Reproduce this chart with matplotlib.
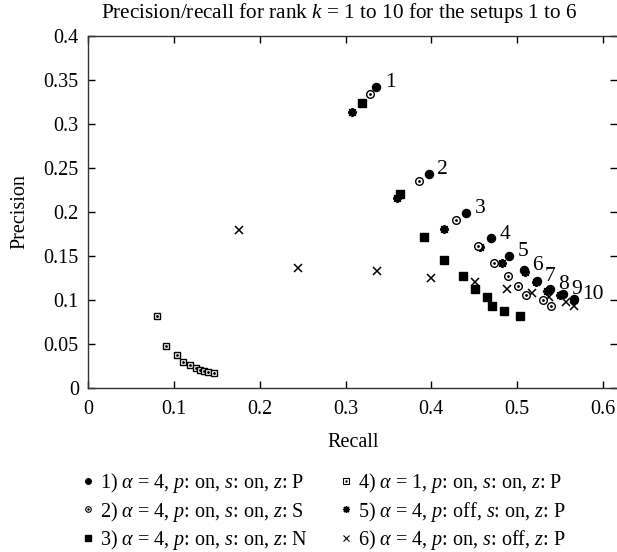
import matplotlib
matplotlib.use("Agg")
import matplotlib.pyplot as plt
from matplotlib.lines import Line2D

plt.rcParams['font.family'] = ['Liberation Serif', 'DejaVu Serif']
plt.rcParams['mathtext.fontset'] = 'custom'
plt.rcParams['mathtext.rm'] = 'Liberation Serif'
plt.rcParams['mathtext.it'] = 'Liberation Serif:italic'

# ---- data (recall, precision) for rank k = 1..10 ----
ranks = [1, 2, 3, 4, 5, 6, 7, 8, 9, 10]

rec1 = [0.336, 0.397, 0.441, 0.470, 0.491, 0.508, 0.523, 0.538, 0.554, 0.566]
pre1 = [0.342, 0.243, 0.199, 0.170, 0.150, 0.134, 0.122, 0.113, 0.107, 0.101]

rec2 = [0.328, 0.386, 0.429, 0.454, 0.473, 0.490, 0.501, 0.510, 0.530, 0.540]
pre2 = [0.334, 0.235, 0.191, 0.161, 0.142, 0.127, 0.116, 0.106, 0.100, 0.093]

rec3 = [0.319, 0.363, 0.391, 0.415, 0.437, 0.451, 0.465, 0.471, 0.485, 0.503]
pre3 = [0.324, 0.220, 0.172, 0.145, 0.127, 0.113, 0.103, 0.093, 0.087, 0.082]

rec4 = [0.080, 0.091, 0.103, 0.110, 0.118, 0.125, 0.130, 0.135, 0.140, 0.146]
pre4 = [0.082, 0.048, 0.037, 0.030, 0.026, 0.023, 0.021, 0.019, 0.018, 0.017]

rec5 = [0.308, 0.360, 0.415, 0.457, 0.483, 0.509, 0.522, 0.535, 0.550, 0.566]
pre5 = [0.314, 0.216, 0.181, 0.160, 0.142, 0.132, 0.120, 0.110, 0.106, 0.100]

rec6 = [0.176, 0.244, 0.337, 0.400, 0.451, 0.488, 0.518, 0.537, 0.557, 0.566]
pre6 = [0.179, 0.136, 0.133, 0.125, 0.120, 0.113, 0.108, 0.103, 0.098, 0.093]

labels = [
    r"1) $\alpha$ = 4, $p$: on, $s$: on, $z$: P",
    r"2) $\alpha$ = 4, $p$: on, $s$: on, $z$: S",
    r"3) $\alpha$ = 4, $p$: on, $s$: on, $z$: N",
    r"4) $\alpha$ = 1, $p$: on, $s$: on, $z$: P",
    r"5) $\alpha$ = 4, $p$: off, $s$: on, $z$: P",
    r"6) $\alpha$ = 4, $p$: on, $s$: off, $z$: P",
]

xticks = [0, 0.1, 0.2, 0.3, 0.4, 0.5, 0.6]
xticklabels = ["0", "0.1", "0.2", "0.3", "0.4", "0.5", "0.6"]
yticks = [0, 0.05, 0.1, 0.15, 0.2, 0.25, 0.3, 0.35, 0.4]
yticklabels = ["0", "0.05", "0.1", "0.15", "0.2", "0.25", "0.3", "0.35", "0.4"]

FS = 14.5

fig = plt.figure(figsize=(6.17, 5.52), dpi=100)
ax = fig.add_axes([88.5 / 617, (552 - 388) / 552, (617 - 88.5) / 617, (388 - 36) / 552])

k = 'black'
ms = 5
# 6) x marks
ax.plot(rec6, pre6, ls='none', marker='x', ms=ms + 0.5, mec=k, mew=1.1)
# 5) asterisk
ax.plot(rec5, pre5, ls='none', marker=(8, 2, 0), ms=ms + 1.5, mec=k, mew=1.3)
# 4) square with dot
ax.plot(rec4, pre4, ls='none', marker='s', ms=ms, mfc='white', mec=k, mew=1.0)
ax.plot(rec4, pre4, ls='none', marker='.', ms=2, mfc=k, mec=k)
# 3) filled square
ax.plot(rec3, pre3, ls='none', marker='s', ms=ms + 1.0, mfc=k, mec=k)
# 2) circle with dot
ax.plot(rec2, pre2, ls='none', marker='o', ms=ms + 0.5, mfc='white', mec=k, mew=1.0)
ax.plot(rec2, pre2, ls='none', marker='.', ms=2, mfc=k, mec=k)
# 1) filled circle
ax.plot(rec1, pre1, ls='none', marker='o', ms=ms + 0.8, mfc=k, mec=k)

for r, xv, yv in zip(ranks, rec1, pre1):
    ax.annotate(str(r), (xv, yv), xytext=(6, 3), textcoords='offset points',
                ha='left', va='center', fontsize=FS + 1)

ax.set_xlim(0, (617 - 88.5) / 857)
ax.set_ylim(0, 0.4)
ax.set_xticks(xticks)
ax.set_xticklabels(xticklabels)
ax.set_yticks(yticks)
ax.set_yticklabels(yticklabels)
ax.tick_params(direction='in', length=5, width=1, top=True, right=True,
               labelsize=FS)
ax.tick_params(axis='x', pad=9)
ax.tick_params(axis='y', pad=7)
ax.spines['right'].set_visible(False)
for s in ['left', 'bottom', 'top']:
    ax.spines[s].set_linewidth(1.0)
    ax.spines[s].set_color('#333333')

ax.set_xlabel("Recall", fontsize=FS, labelpad=10)
ax.set_ylabel("Precision", fontsize=FS, labelpad=10)
ax.set_title(r"Precision/recall for rank $k$ = 1 to 10 for the setups 1 to 6",
             fontsize=15.3, pad=13, x=(339 - 88.5) / (617 - 88.5))

h1 = Line2D([], [], ls='none', marker='o', ms=4, mfc=k, mec=k)
h2 = (Line2D([], [], ls='none', marker='o', ms=4, mfc='white', mec=k, mew=0.8),
      Line2D([], [], ls='none', marker='.', ms=1.5, mfc=k, mec=k))
h3 = Line2D([], [], ls='none', marker='s', ms=4.5, mfc=k, mec=k)
h4 = (Line2D([], [], ls='none', marker='s', ms=4, mfc='white', mec=k, mew=0.8),
      Line2D([], [], ls='none', marker='.', ms=1.5, mfc=k, mec=k))
h5 = Line2D([], [], ls='none', marker=(8, 2, 0), ms=5, mec=k, mew=1.0)
h6 = Line2D([], [], ls='none', marker='x', ms=4, mec=k, mew=0.8)

fig.legend([h1, h2, h3, h4, h5, h6], labels, ncol=2, frameon=False,
           loc='upper left', bbox_to_anchor=(72 / 617, 1 - 461 / 552),
           fontsize=FS, handlelength=0.6, handletextpad=0.3,
           columnspacing=1.6, labelspacing=0.22, borderpad=0)

fig.savefig("out.png", dpi=100)
